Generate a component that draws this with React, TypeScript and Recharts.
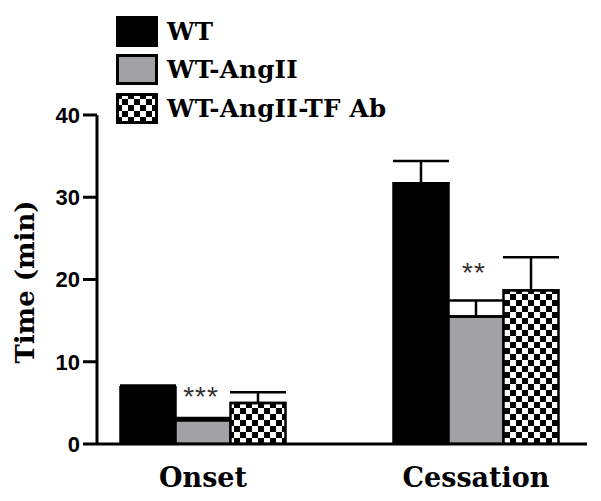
import React from 'react'
import { BarChart, Bar, XAxis, YAxis, ErrorBar, Legend, LabelList } from 'recharts'

const groups = ['Onset', 'Cessation']
const wt = [6.9, 31.7]
const wtErr = [0.2, 2.7]
const angII = [2.9, 15.5]
const angIIErr = [0.25, 1.95]
const tfAb = [5.0, 18.7]
const tfAbErr = [1.3, 4.0]
const stars = ['***', '**']
const yTicks = [0, 10, 20, 30, 40]

const serif = '"DejaVu Serif", serif'
const sans = '"Liberation Sans", Arial, sans-serif'

const data = groups.map((g, i) => ({
  group: g,
  wt: wt[i],
  wtErr: [0, wtErr[i]],
  angII: angII[i],
  angIIErr: [0, angIIErr[i]],
  tfAb: tfAb[i],
  tfAbErr: [0, tfAbErr[i]],
}))

// px per unit on the y axis (329px for 40 min)
const PX = 329 / 40

function Checker({ id }: { id: string }) {
  return (
    <pattern id={id} width={12} height={12} patternUnits="userSpaceOnUse">
      <rect width={12} height={12} fill="#fff" />
      <rect width={6} height={6} fill="#000" />
      <rect x={6} y={6} width={6} height={6} fill="#000" />
    </pattern>
  )
}

function LegendBox(props: any) {
  const items = props.payload || []
  return (
    <div>
      {items.map((it: any, i: number) => (
        <div key={i} style={{ display: 'flex', alignItems: 'center', height: 38.5 }}>
          <svg width={42} height={31} style={{ display: 'block' }}>
            <defs>
              <Checker id={'lg-checker-' + i} />
            </defs>
            <rect
              x={1.5}
              y={1.5}
              width={39}
              height={28}
              fill={it.color === 'url(#checker)' ? 'url(#lg-checker-' + i + ')' : it.color}
              stroke="#000"
              strokeWidth={3}
            />
          </svg>
          <span
            style={{
              marginLeft: 9,
              fontFamily: serif,
              fontWeight: 'bold',
              fontSize: 24.5,
              letterSpacing: 0.3,
              color: '#000',
            }}
          >
            {it.value}
          </span>
        </div>
      ))}
    </div>
  )
}

function StarLabel(props: any) {
  const { x, y, width, index } = props
  const top = y - angIIErr[index] * PX
  return (
    <text
      x={x + width / 2 - 2}
      y={top - (index === 0 ? 12 : 18)}
      textAnchor="middle"
      fontFamily={sans}
      fontSize={28}
      letterSpacing={1}
      fill="#333"
    >
      {stars[index]}
    </text>
  )
}

function XTick(props: any) {
  const { x, y, payload } = props
  return (
    <text
      x={x}
      y={y + 35}
      textAnchor="middle"
      fontFamily={serif}
      fontWeight="bold"
      fontSize={27}
      fill="#000"
    >
      {payload.value}
    </text>
  )
}

function YLabel() {
  return (
    <text
      x={25}
      y={282}
      transform="rotate(-90, 25, 282)"
      textAnchor="middle"
      dominantBaseline="central"
      fontFamily={serif}
      fontWeight="bold"
      fontSize={26}
      fill="#000"
    >
      Time (min)
    </text>
  )
}

export default function App() {
  return (
    <div style={{ position: 'absolute', left: 0, top: 0, width: 601, height: 501, background: '#fff' }}>
      <BarChart
        width={601}
        height={501}
        data={data}
        margin={{ top: 115, right: 14, bottom: 0, left: 0 }}
        barGap={0}
        barSize={55}
      >
        <defs>
          <Checker id="checker" />
        </defs>
        <XAxis
          dataKey="group"
          height={57}
          padding={{ left: -30.5, right: -25.5 }}
          axisLine={{ stroke: '#000', strokeWidth: 3 }}
          tickLine={false}
          tick={<XTick />}
          interval={0}
        />
        <YAxis
          width={97}
          domain={[0, 40]}
          ticks={yTicks}
          allowDataOverflow
          axisLine={{ stroke: '#000', strokeWidth: 3 }}
          tickLine={{ stroke: '#000', strokeWidth: 3 }}
          tickSize={14}
          tickMargin={3}
          tick={{ fill: '#000', fontFamily: sans, fontWeight: 'bold', fontSize: 22 }}
          label={<YLabel />}
        />
        <Legend
          verticalAlign="middle"
          align="center"
          content={<LegendBox />}
          wrapperStyle={{ top: 12, left: 116, width: 380 }}
        />
        <Bar dataKey="wt" name="WT" fill="#000" stroke="#000" strokeWidth={2.5} isAnimationActive={false}>
          <ErrorBar dataKey="wtErr" width={28} stroke="#000" strokeWidth={2.5} direction="y" />
        </Bar>
        <Bar dataKey="angII" name="WT-AngII" fill="#a2a2a6" stroke="#000" strokeWidth={2.5} isAnimationActive={false}>
          <ErrorBar dataKey="angIIErr" width={28} stroke="#000" strokeWidth={2.5} direction="y" />
          <LabelList dataKey="angII" content={<StarLabel />} />
        </Bar>
        <Bar dataKey="tfAb" name="WT-AngII-TF Ab" fill="url(#checker)" stroke="#000" strokeWidth={2.5} isAnimationActive={false}>
          <ErrorBar dataKey="tfAbErr" width={28} stroke="#000" strokeWidth={2.5} direction="y" />
        </Bar>
      </BarChart>
    </div>
  )
}
